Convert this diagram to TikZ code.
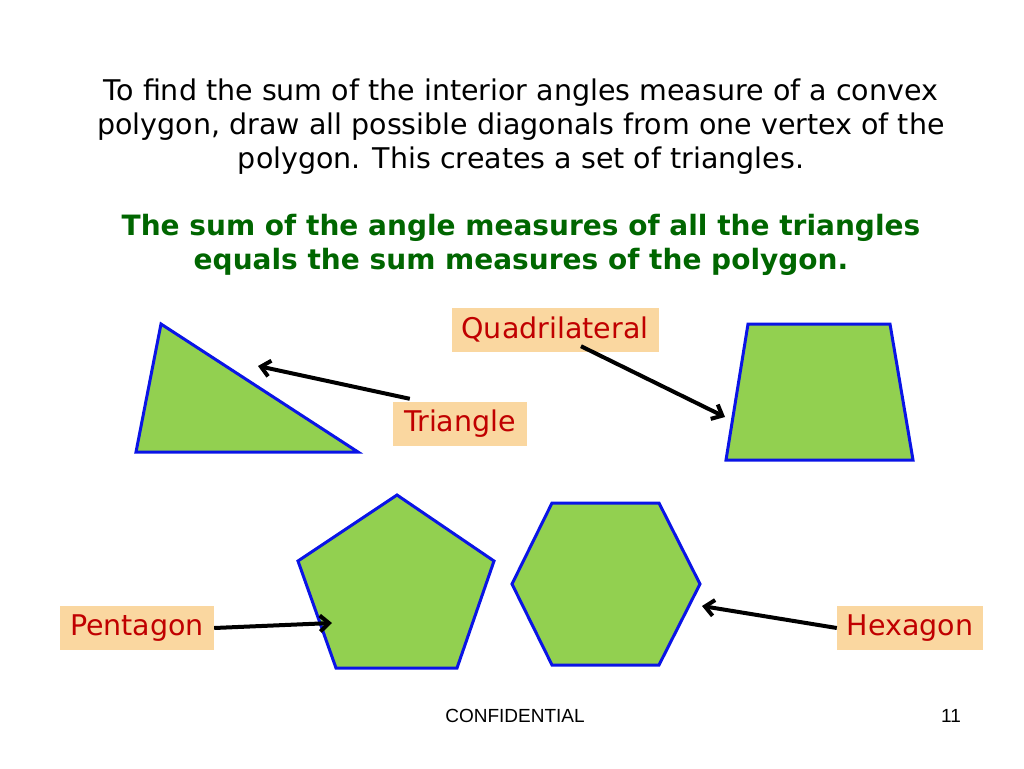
\documentclass[tikz,border=0pt]{standalone}
\usepackage{fontspec}
\setmainfont{DejaVu Sans}
\newfontfamily\footfont{Liberation Sans}
\usetikzlibrary{arrows.meta}
\definecolor{polyfill}{RGB}{146,208,80}
\definecolor{polyline}{RGB}{10,20,230}
\definecolor{boxfill}{RGB}{250,215,160}
\definecolor{labelred}{RGB}{192,0,0}
\definecolor{headgreen}{RGB}{0,102,0}

\begin{document}
\begin{tikzpicture}[x=1pt,y=-1pt]
	\tikzset{PolyStyle/.style =
	{draw = polyline,
		fill = polyfill,
		line width = 3pt,
		line join = miter},
	LabelStyle/.style =
	{fill = boxfill,
		text = labelred,
		font = \fontsize{28.5}{32}\selectfont,
		minimum height = 44pt,
		inner sep = 0pt},
	PointStyle/.style =
	{-{Straight Barb[length=9pt,width=16pt]},
		line width = 4pt,
		black}}
\useasboundingbox (0,0) rectangle (1024,768);
% text
\node[align=center, font=\fontsize{28.5}{34}\selectfont] (intro) at (521,127)
	{To find the sum of the interior angles measure of a convex\\
	polygon, draw all possible diagonals from one vertex of the\\
	polygon. This creates a set of triangles.};
\node[align=center, text=headgreen, font=\bfseries\fontsize{28}{34}\selectfont] (rule) at (521,245)
	{The sum of the angle measures of all the triangles\\
	equals the sum measures of the polygon.};
% polygons
\draw[PolyStyle] (161,324) -- (136,452) -- (358,452) -- cycle;
\draw[PolyStyle] (748,324) -- (890,324) -- (913,460) -- (726,460) -- cycle;
\draw[PolyStyle] (397,495) -- (494,561) -- (457,668) -- (336,668) -- (298,561) -- cycle;
\draw[PolyStyle] (552,503) -- (659,503) -- (700,584) -- (659,665) -- (552,665) -- (512,584) -- cycle;
% labels
\node[LabelStyle, minimum width=134pt] (tril) at (460,424) {Triangle};
\node[LabelStyle, minimum width=207pt] (quadl) at (555,330) {Quadrilateral};
\node[LabelStyle, minimum width=154pt] (pentl) at (137,628) {Pentagon};
\node[LabelStyle, minimum width=146pt] (hexl) at (910,628) {Hexagon};
% arrow tips
\coordinate (tritip) at (258,366);
\coordinate (quadtip) at (725,417);
\coordinate (penttip) at (332,623);
\coordinate (hextip) at (702,606);
\draw[PointStyle] ([xshift=17pt,yshift=3pt]tril.north west) -- (tritip);
\draw[PointStyle] ([xshift=26pt,yshift=6pt]quadl.south) -- (quadtip);
\draw[PointStyle] (pentl.east) -- (penttip);
\draw[PointStyle] (hexl.west) -- (hextip);
% footer
\node[font=\footfont\fontsize{19}{21}\selectfont] (conf) at (515,716) {CONFIDENTIAL};
\node[font=\footfont\fontsize{19}{21}\selectfont] (page) at (951,716) {11};
\end{tikzpicture}
\end{document}
